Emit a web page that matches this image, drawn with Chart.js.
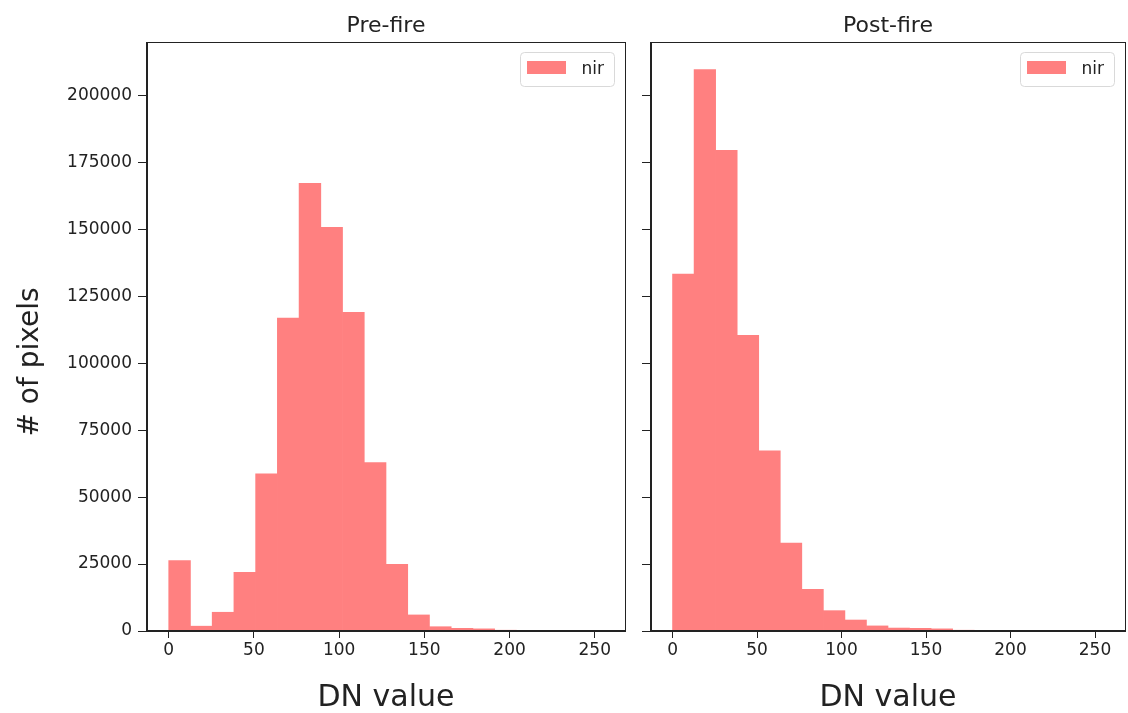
<!DOCTYPE html>
<html>
<head>
<meta charset="utf-8">
<script src="https://cdn.jsdelivr.net/npm/chart.js@4.4.0/dist/chart.umd.min.js"></script>
<style>
  html, body { margin: 0; padding: 0; background: #fff; }
  #wrap { position: relative; width: 1128px; height: 713px; }
  #pre { position: absolute; left: 0; top: 0; }
  #post { position: absolute; left: 640px; top: 0; }
</style>
</head>
<body>
<div id="wrap">
  <canvas id="pre" width="640" height="713"></canvas>
  <canvas id="post" width="488" height="713"></canvas>
</div>
<script>
// Bordes de los 20 bins del histograma (valores DN de 0 a 255).
const binEdges = [0, 12.75, 25.5, 38.25, 51, 63.75, 76.5, 89.25, 102, 114.75, 127.5,
  140.25, 153, 165.75, 178.5, 191.25, 204, 216.75, 229.5, 242.25, 255];

// Conteo de pixeles por bin.
const preFire = [26300, 1800, 7000, 21900, 58700, 116900, 167200, 150800, 119000, 62900,
  24900, 6000, 1600, 1000, 800, 300, 200, 150, 100, 150];
const postFire = [133300, 209700, 179500, 110400, 67300, 32800, 15600, 7600, 4100, 1900,
  1100, 1000, 800, 300, 200, 150, 100, 100, 50, 100];

const xTicks = [0, 50, 100, 150, 200, 250];
const yTicks = [0, 25000, 50000, 75000, 100000, 125000, 150000, 175000, 200000];

// rojo con alpha 0.5 sobre blanco, opaco para que no se oscurezcan los bordes
const barColor = '#ff8080';
const axisColor = '#222';
const font = 'DejaVu Sans';

function histPoints(counts) {
  return counts.map((c, i) => ({ x: (binEdges[i] + binEdges[i + 1]) / 2, y: c }));
}

// Dibuja el marco, el titulo, la etiqueta del eje x y la leyenda de cada panel.
const framePlugin = {
  id: 'frame',
  afterDraw(chart, args, opts) {
    const { ctx, chartArea: a } = chart;
    ctx.save();
    ctx.strokeStyle = axisColor;
    ctx.lineWidth = 1;
    ctx.strokeRect(Math.round(a.left) - 0.5, Math.round(a.top) + 0.5,
      Math.round(a.right - a.left) + 1, Math.round(a.bottom - a.top) - 1);

    ctx.fillStyle = '#222';
    ctx.textAlign = 'center';
    ctx.textBaseline = 'alphabetic';
    ctx.font = `22px "${font}"`;
    ctx.fillText(opts.title, (a.left + a.right) / 2, 32);

    ctx.font = `30px "${font}"`;
    ctx.fillText('DN value', (a.left + a.right) / 2, 706);

    if (opts.yLabel) {
      ctx.save();
      ctx.translate(31, 362);
      ctx.rotate(-Math.PI / 2);
      ctx.textBaseline = 'middle';
      ctx.font = `28px "${font}"`;
      ctx.fillText(opts.yLabel, 0, 0);
      ctx.restore();
    }

    // leyenda
    const bw = 94, bh = 34;
    const bx = a.right - 10.5 - bw, by = a.top + 10.5;
    ctx.beginPath();
    ctx.roundRect(bx, by, bw, bh, 4);
    ctx.fillStyle = 'rgba(255,255,255,0.8)';
    ctx.fill();
    ctx.strokeStyle = '#d9d9d9';
    ctx.stroke();
    ctx.fillStyle = barColor;
    ctx.fillRect(bx + 6.5, by + 8.5, 39, 13);
    ctx.fillStyle = '#222';
    ctx.textAlign = 'left';
    ctx.textBaseline = 'middle';
    ctx.font = `17px "${font}"`;
    ctx.fillText(chart.data.datasets[0].label, bx + 61, by + bh / 2);
    ctx.restore();
  }
};

function makeChart(id, counts, title, opts) {
  const ctx = document.getElementById(id).getContext('2d');
  return new Chart(ctx, {
    type: 'bar',
    data: {
      datasets: [{
        label: 'nir',
        data: histPoints(counts),
        backgroundColor: barColor,
        borderWidth: 0,
        barPercentage: 1,
        categoryPercentage: 1
      }]
    },
    plugins: [framePlugin],
    options: {
      responsive: false,
      animation: false,
      layout: { padding: { top: 42, right: opts.padRight, left: 0, bottom: 0 } },
      plugins: {
        legend: { display: false },
        tooltip: { enabled: false },
        frame: { title: title, yLabel: opts.yLabel }
      },
      scales: {
        x: {
          type: 'linear',
          offset: false,
          min: -12.75,
          max: 267.75,
          afterBuildTicks: s => { s.ticks = xTicks.map(v => ({ value: v })); },
          afterFit: s => { s.height = 82; },
          grid: { offset: false, drawOnChartArea: false, drawTicks: true, tickLength: 7, color: axisColor },
          border: { display: true, color: axisColor },
          ticks: { color: '#222', padding: 2, font: { family: font, size: 17 }, maxRotation: 0 }
        },
        y: {
          min: 0,
          max: 220000,
          afterBuildTicks: s => { s.ticks = yTicks.map(v => ({ value: v })); },
          afterFit: s => { s.width = opts.yWidth; },
          grid: { offset: false, drawOnChartArea: false, drawTicks: true, tickLength: 9, color: axisColor },
          border: { display: true, color: axisColor },
          ticks: {
            color: '#222',
            padding: 6,
            font: { family: font, size: 17 },
            callback: v => opts.showY ? String(v) : ''
          }
        }
      }
    }
  });
}

makeChart('pre', preFire, 'Pre-fire', { padRight: 15, yWidth: 147, showY: true, yLabel: '# of pixels' });
makeChart('post', postFire, 'Post-fire', { padRight: 3, yWidth: 11, showY: false });
</script>
</body>
</html>
